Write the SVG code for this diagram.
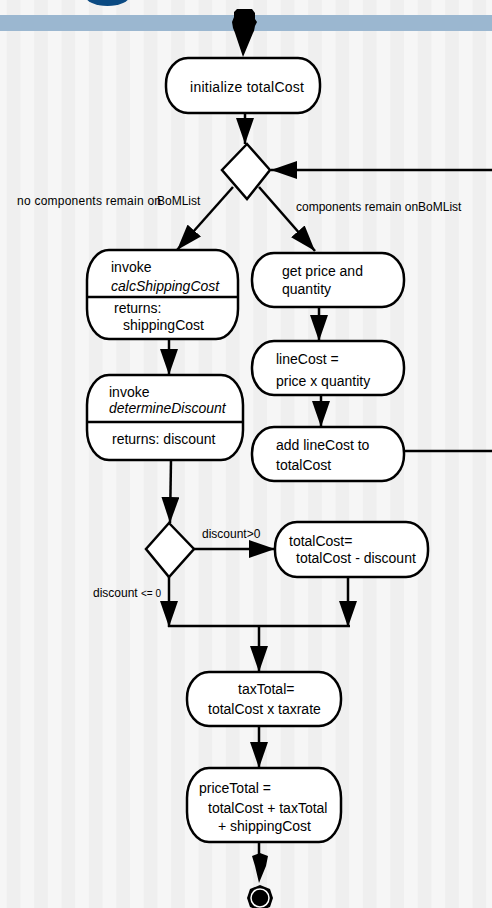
<svg xmlns="http://www.w3.org/2000/svg" width="492" height="908" viewBox="0 0 492 908">
<defs>
<pattern id="stripes" patternUnits="userSpaceOnUse" x="6.7" y="0" width="27.4" height="10">
<rect x="0" y="0" width="13.7" height="10" fill="#efefef"/>
<rect x="13.7" y="0" width="13.7" height="10" fill="#f6f6f6"/>
</pattern>
<marker id="ah" markerUnits="userSpaceOnUse" markerWidth="26" markerHeight="18" refX="26" refY="9" orient="auto" viewBox="0 0 26 18">
<path d="M0,0 L26,9 L0,18 Z" fill="#000"/>
</marker>
</defs>
<style>
.node{fill:#fff;stroke:#000;stroke-width:2.5}
.t{font-family:"Liberation Sans",Arial,sans-serif;font-size:14px;fill:#000}
.i{font-style:italic}
.lbl{font-family:"Liberation Sans",Arial,sans-serif;font-size:12px;fill:#000}
.c{stroke:#000;stroke-width:2.5;fill:none}
.ca{stroke:#000;stroke-width:2.5;fill:none;marker-end:url(#ah)}
</style>
<rect x="0" y="0" width="492" height="908" fill="url(#stripes)"/>
<ellipse cx="107.5" cy="-4" rx="22" ry="10" fill="#0b4a82"/>
<rect x="0" y="15" width="492" height="16" fill="#9bb7d0"/>

<g id="connectors">
<polygon points="237,9 252,9 255,13 255,19 257,22 255,26 254,31 253,33 243,57 235,33 233,28 232,22 234,17 234,12" fill="#000"/>
<line class="ca" x1="245" y1="113" x2="245" y2="144"/>
<line class="ca" x1="233" y1="187" x2="177" y2="250"/>
<line class="ca" x1="259" y1="187" x2="315" y2="251"/>
<line class="ca" x1="492" y1="170" x2="271" y2="170"/>
<line class="ca" x1="319" y1="307" x2="319" y2="341"/>
<line class="ca" x1="321" y1="395" x2="321" y2="427"/>
<line class="c" x1="404" y1="451" x2="492" y2="451"/>
<line class="ca" x1="169" y1="339" x2="169" y2="375"/>
<line class="ca" x1="171" y1="460" x2="170" y2="523"/>
<line class="ca" x1="194" y1="549" x2="275" y2="549"/>
<line class="ca" x1="348" y1="577" x2="348" y2="627"/>
<line class="ca" x1="169" y1="577" x2="169" y2="627"/>
<line class="c" x1="168" y1="626" x2="350" y2="626"/>
<line class="ca" x1="259" y1="626" x2="259" y2="672"/>
<line class="ca" x1="259" y1="726" x2="259" y2="768"/>
<line class="c" x1="259" y1="842" x2="259" y2="856"/>
<polygon points="252,856 260,853 268,856 266,866 259,883 255,866" fill="#000"/>
<text class="lbl" x="17" y="205" textLength="144" lengthAdjust="spacing">no components remain on</text>
<text class="lbl" x="157" y="205">BoMList</text>
<text class="lbl" x="296" y="211">components remain onBoMList</text>
<text class="lbl" x="202" y="538">discount&gt;0</text>
<text class="lbl" x="93" y="597">discount <tspan font-size="10">&lt;= 0</tspan></text>
</g>

<g id="n-init">
<rect class="node" x="166" y="58" width="154" height="55" rx="22" ry="26"/>
<text class="t" x="190" y="92" textLength="114">initialize totalCost</text>
</g>

<g id="d-components">
<polygon class="node" points="247,144 270,170 247,199 222,170"/>
</g>

<g id="n-shipping">
<rect class="node" x="87" y="250" width="151" height="89" rx="22" ry="30"/>
<line x1="88" y1="297" x2="237" y2="297" stroke="#000" stroke-width="2.5"/>
<text class="t" x="111" y="272">invoke</text>
<text class="t i" x="111" y="291">calcShippingCost</text>
<text class="t" x="114" y="313">returns:</text>
<text class="t" x="123" y="330">shippingCost</text>
</g>

<g id="n-discount">
<rect class="node" x="87" y="375" width="156" height="85" rx="22" ry="30"/>
<line x1="88" y1="422" x2="242" y2="422" stroke="#000" stroke-width="2.5"/>
<text class="t" x="109" y="397">invoke</text>
<text class="t i" x="109" y="413">determineDiscount</text>
<text class="t" x="112" y="444">returns: discount</text>
</g>

<g id="n-getprice">
<rect class="node" x="252" y="253" width="152" height="54" rx="22" ry="26"/>
<text class="t" x="282" y="276">get price and</text>
<text class="t" x="282" y="294">quantity</text>
</g>

<g id="n-linecost">
<rect class="node" x="252" y="341" width="152" height="54" rx="22" ry="26"/>
<text class="t" x="276" y="364">lineCost  =</text>
<text class="t" x="276" y="386">price x quantity</text>
</g>

<g id="n-addline">
<rect class="node" x="252" y="427" width="152" height="54" rx="22" ry="26"/>
<text class="t" x="276" y="450">add lineCost to</text>
<text class="t" x="276" y="470">totalCost</text>
</g>

<g id="d-discount">
<polygon class="node" points="169,523 194,549 169,577 146,549"/>
</g>

<g id="n-subtract">
<rect class="node" x="275" y="522" width="153" height="55" rx="22" ry="26"/>
<text class="t" x="289" y="546">totalCost=</text>
<text class="t" x="296" y="563">totalCost - discount</text>
</g>

<g id="n-tax">
<rect class="node" x="187" y="672" width="154" height="54" rx="22" ry="26"/>
<text class="t" x="238" y="694">taxTotal=</text>
<text class="t" x="208" y="714">totalCost x taxrate</text>
</g>

<g id="n-price">
<rect class="node" x="187" y="768" width="154" height="74" rx="22" ry="30"/>
<text class="t" x="199" y="793">priceTotal =</text>
<text class="t" x="208" y="813">totalCost + taxTotal</text>
<text class="t" x="218" y="831">+ shippingCost</text>
</g>

<g id="end">
<polygon points="260,885 270,889 273,898 270,907 260,911 250,907 247,898 250,889" fill="#000"/>
<circle cx="260" cy="898" r="9" fill="none" stroke="#fff" stroke-width="1.5"/>
</g>
</svg>
